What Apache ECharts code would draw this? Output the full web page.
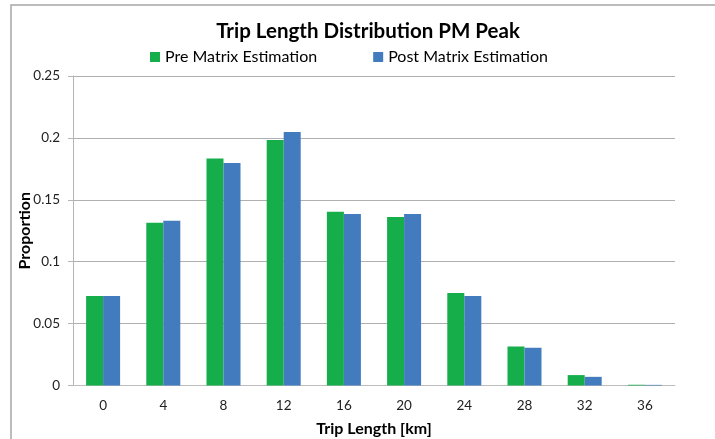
<!DOCTYPE html>
<html>
<head>
<meta charset="utf-8">
<script src="https://cdn.jsdelivr.net/npm/echarts@6/dist/echarts.min.js"></script>
<style>
  html, body { margin: 0; padding: 0; background: #fff; }
  #chart { width: 715px; height: 439px; }
</style>
</head>
<body>
<div id="chart"></div>
<script>
// Trip length bins (km) and the share of trips in each bin
const tripLengthKm = ['0', '4', '8', '12', '16', '20', '24', '28', '32', '36'];
const preMatrix  = [0.0723, 0.1315, 0.1833, 0.1984, 0.1404, 0.1361, 0.0747, 0.0315, 0.0084, 0.0006];
const postMatrix = [0.0723, 0.1331, 0.1798, 0.2048, 0.1385, 0.1385, 0.0723, 0.0305, 0.0070, 0.0005];
const seriesNames = ['Pre Matrix Estimation', 'Post Matrix Estimation'];

const FONT = 'Lato, "Open Sans", sans-serif';
const chart = echarts.init(document.getElementById('chart'), null, { renderer: 'canvas' });

chart.setOption({
  backgroundColor: '#ffffff',
  animation: false,
  color: ['#16ad4b', '#427bbe'],
  graphic: [{
    type: 'rect',
    shape: { x: 11, y: 5, width: 720, height: 450 },
    style: { fill: 'none', stroke: '#a6a6a6', lineWidth: 1.5 },
    silent: true,
    z: -1
  }],
  title: {
    text: 'Trip Length Distribution PM Peak',
    left: 363,
    textAlign: 'center',
    top: 16,
    textStyle: { fontFamily: FONT, fontSize: 20.5, fontWeight: 'bold', color: '#000' }
  },
  legend: {
    data: seriesNames,
    left: 145,
    top: 44,
    itemWidth: 10,
    itemHeight: 10,
    itemGap: 56,
    icon: 'rect',
    textStyle: { fontFamily: FONT, fontSize: 16, color: '#000' }
  },
  grid: {
    left: 73, right: 40, top: 76, bottom: 53.5,
    containLabel: false,
    outerBoundsMode: 'none'
  },
  xAxis: {
    type: 'category',
    data: tripLengthKm,
    name: 'Trip Length [km]',
    nameLocation: 'middle',
    nameGap: 35,
    nameMoveOverlap: false,
    nameTextStyle: { fontFamily: FONT, fontSize: 16, fontWeight: 'bold', color: '#000' },
    axisLine: { lineStyle: { color: '#bdbdbd', width: 1 } },
    axisTick: { show: false },
    axisLabel: { fontFamily: FONT, fontSize: 13.5, color: '#222', margin: 13.5 }
  },
  yAxis: {
    type: 'value',
    min: 0,
    max: 0.25,
    interval: 0.05,
    name: 'Proportion',
    nameLocation: 'middle',
    nameGap: 40,
    nameRotate: 90,
    nameMoveOverlap: false,
    nameTextStyle: { fontFamily: FONT, fontSize: 16, fontWeight: 'bold', color: '#000' },
    axisLine: { show: true, lineStyle: { color: '#b5b5b5', width: 1 } },
    axisTick: { show: true, length: 5, lineStyle: { color: '#b5b5b5' } },
    axisLabel: { fontFamily: FONT, fontSize: 13.5, color: '#222', margin: 13 },
    splitLine: { show: true, lineStyle: { color: '#b0b0b0', width: 1 } }
  },
  series: [
    { name: seriesNames[0], type: 'bar', data: preMatrix, barWidth: 17, barGap: '0%' },
    { name: seriesNames[1], type: 'bar', data: postMatrix, barWidth: 17, barGap: '0%' }
  ]
});
</script>
</body>
</html>
